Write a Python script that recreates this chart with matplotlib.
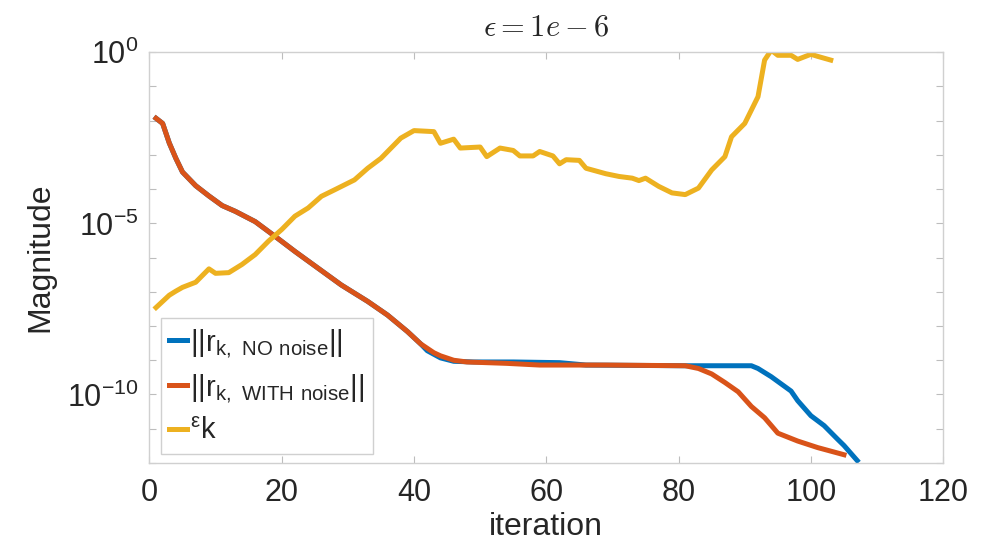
import numpy as np
import matplotlib.pyplot as plt

# residual norms and eps_k per iteration (log10 values)
it_no = [1, 2, 3, 4, 5, 7, 9, 11, 13, 16, 19, 22, 26, 29, 33, 36, 39, 41, 42, 44, 46, 49,
         55, 62, 66, 81, 91, 92, 94, 97, 98, 100, 102, 104, 105, 107]
log_no = [-1.93, -2.08, -2.65, -3.10, -3.50, -3.90, -4.20, -4.48, -4.65, -4.95, -5.38, -5.82,
          -6.38, -6.80, -7.28, -7.68, -8.16, -8.52, -8.72, -8.93, -9.03, -9.05,
          -9.05, -9.07, -9.14, -9.16, -9.16, -9.24, -9.48, -9.90, -10.18, -10.62, -10.91,
          -11.30, -11.49, -11.93]

it_with = [1, 2, 3, 4, 5, 7, 9, 11, 13, 16, 19, 22, 26, 29, 33, 36, 39, 41, 43, 44, 46, 48,
           54, 59, 69, 81, 83, 85, 87, 89, 91, 93, 95, 98, 101, 105]
log_with = [-1.93, -2.08, -2.65, -3.10, -3.50, -3.90, -4.20, -4.48, -4.65, -4.95, -5.38, -5.82,
            -6.38, -6.80, -7.28, -7.68, -8.16, -8.52, -8.78, -8.87, -9.00, -9.05,
            -9.09, -9.14, -9.14, -9.16, -9.24, -9.40, -9.65, -9.92, -10.35, -10.68, -11.13,
            -11.36, -11.55, -11.76]

it_eps = [1, 3, 4, 5, 7, 9, 10, 12, 14, 16, 18, 20, 22, 24, 26, 28, 31, 33, 35, 38, 40, 43,
          44, 46, 47, 50, 51, 53, 55, 56, 58, 59, 61, 62, 63, 65, 66, 69, 71, 73, 74, 75, 77,
          79, 81, 83, 85, 87, 88, 90, 92, 93, 94, 95, 97, 98, 100, 101, 103]
log_eps = [-7.46, -7.10, -6.98, -6.87, -6.72, -6.33, -6.46, -6.44, -6.20, -5.91, -5.52, -5.18,
           -4.79, -4.55, -4.21, -4.02, -3.73, -3.39, -3.10, -2.51, -2.29, -2.32,
           -2.66, -2.54, -2.80, -2.77, -3.05, -2.80, -2.87, -3.03, -3.03, -2.90, -3.03, -3.26,
           -3.14, -3.16, -3.39, -3.55, -3.63, -3.68, -3.75, -3.68, -3.92,
           -4.11, -4.16, -3.97, -3.44, -3.05, -2.47, -2.08, -1.30, -0.23, 0.06, -0.09,
           -0.09, -0.21, -0.06, -0.12, -0.23]

x_ticks = [0, 20, 40, 60, 80, 100, 120]
decades = list(range(-12, 1))
labelled = [0, -5, -10]

plt.rcParams['font.family'] = ['Liberation Sans', 'DejaVu Sans']

fig = plt.figure(figsize=(9.96, 5.44), dpi=100)
ax = fig.add_axes([0.150, 0.149, 0.797, 0.755])

lw = 3.6
ax.semilogy(it_no, 10.0 ** np.array(log_no), color='#0072BD', lw=lw,
            label=r'$\mathregular{||r_{k,\ NO\ noise}||}$')
ax.semilogy(it_with, 10.0 ** np.array(log_with), color='#D95319', lw=lw,
            label=r'$\mathregular{||r_{k,\ WITH\ noise}||}$')
ax.semilogy(it_eps, 10.0 ** np.array(log_eps), color='#EDB120', lw=lw,
            label=r'$\mathregular{^{\epsilon}k}$')

ax.set_xlim(0, 120)
ax.set_ylim(1e-12, 1e0)
ax.set_xticks(x_ticks)
ax.set_yticks([10.0 ** d for d in decades])
ax.set_yticklabels([r'$\mathregular{10^{%d}}$' % d if d in labelled else '' for d in decades])
ax.minorticks_off()

grey = '#262626'
ax.tick_params(direction='in', top=True, right=True, length=5, width=0.8,
               color='#bdbdbd', labelsize=22, labelcolor=grey)
ax.tick_params(axis='x', pad=11)
ax.tick_params(axis='y', pad=8)
for sp in ax.spines.values():
    sp.set_color('#d0d0d0')
    sp.set_linewidth(1.0)

ax.set_xlabel('iteration', fontsize=23, color=grey, labelpad=3)
ax.set_ylabel('Magnitude', fontsize=23, color=grey, labelpad=8)
ax.set_title(r'$\epsilon = 1e-6$', fontsize=22, color=grey, math_fontfamily='cm', pad=12)

leg = ax.legend(loc='lower left', bbox_to_anchor=(0.014, 0.022), fontsize=21,
                handlelength=0.6, handletextpad=0.1, borderaxespad=0,
                borderpad=0.3, labelspacing=0.42, fancybox=False, framealpha=1)
leg.get_frame().set_edgecolor('#d0d0d0')
leg.get_frame().set_linewidth(1.0)
for t in leg.get_texts():
    t.set_color(grey)

fig.savefig('out.png', dpi=100)
